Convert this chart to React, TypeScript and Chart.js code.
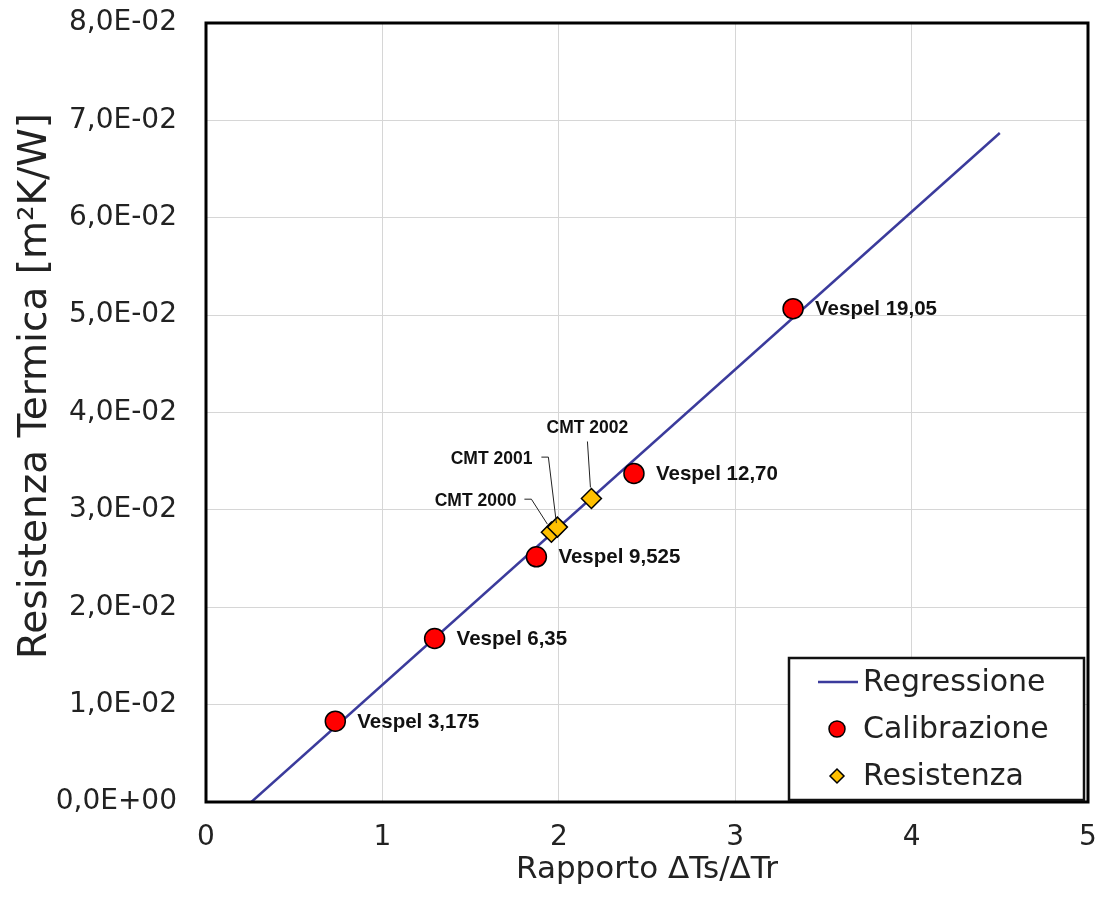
import React, { useEffect, useRef } from 'react';
import { Chart, registerables } from 'chart.js';

Chart.register(...registerables);

// ---- data ----
const calibLabels = ['Vespel 3,175', 'Vespel 6,35', 'Vespel 9,525', 'Vespel 12,70', 'Vespel 19,05'];
const calibX = [0.733, 1.296, 1.873, 2.426, 3.328];
const calibY = [0.0083, 0.01679, 0.02518, 0.03374, 0.05066];

const resLabels = ['CMT 2000', 'CMT 2001', 'CMT 2002'];
const resX = [1.958, 1.992, 2.185];
const resY = [0.02771, 0.02823, 0.03117];

const regX = [0.257, 4.5];
const regY = [0, 0.0687];

const xTickLabels = ['0', '1', '2', '3', '4', '5'];
const yTickLabels = ['0,0E+00', '1,0E-02', '2,0E-02', '3,0E-02', '4,0E-02', '5,0E-02', '6,0E-02', '7,0E-02', '8,0E-02'];

const seriesNames = ['Regressione', 'Calibrazione', 'Resistenza'];
const xTitle = 'Rapporto ΔTs/ΔTr';
const yTitle = 'Resistenza Termica [m²K/W]';

const FONT = '"DejaVu Sans", sans-serif';
const LABEL_FONT = '"Liberation Sans", Arial, sans-serif';

const REG_COLOR = '#3b3b9c';
const CAL_COLOR = '#ff0000';
const RES_COLOR = '#ffc000';

// label offsets for the CMT points (pixels relative to point), with leader lines
const resLabelLayout = [
  { tx: -35, ty: -31, align: 'right', leader: [[-27, -33], [-20, -33], [-4, -8]] },
  { tx: -25, ty: -68, align: 'right', leader: [[-16, -70], [-9, -70], [-1, -4]] },
  { tx: -4, ty: -70, align: 'center', leader: [[-4, -57], [-1, -11]] },
];

const overlayPlugin = {
  id: 'overlay',
  afterDatasetsDraw(chart: any) {
    const ctx = chart.ctx;
    const area = chart.chartArea;

    // data labels for calibration points
    const calMeta = chart.getDatasetMeta(1);
    ctx.save();
    ctx.fillStyle = '#111';
    ctx.font = `bold 20.5px ${LABEL_FONT}`;
    ctx.textAlign = 'left';
    ctx.textBaseline = 'middle';
    calMeta.data.forEach((pt: any, i: number) => {
      ctx.fillText(calibLabels[i], pt.x + 22, pt.y + 1);
    });

    // labels for resistance points with leader lines
    const resMeta = chart.getDatasetMeta(2);
    ctx.font = `bold 17.5px ${LABEL_FONT}`;
    resMeta.data.forEach((pt: any, i: number) => {
      const lay = resLabelLayout[i];
      ctx.strokeStyle = '#222';
      ctx.lineWidth = 1;
      ctx.beginPath();
      lay.leader.forEach((p, j) => {
        if (j === 0) ctx.moveTo(pt.x + p[0], pt.y + p[1]);
        else ctx.lineTo(pt.x + p[0], pt.y + p[1]);
      });
      ctx.stroke();
      ctx.textAlign = lay.align as CanvasTextAlign;
      ctx.fillText(resLabels[i], pt.x + lay.tx, pt.y + lay.ty);
    });
    ctx.restore();

    // plot frame
    ctx.save();
    ctx.strokeStyle = '#000';
    ctx.lineWidth = 3;
    ctx.strokeRect(area.left, area.top, area.right - area.left, area.bottom - area.top);
    ctx.restore();

    // legend box
    const lx = 789, ly = 658, lw = 295, lh = 142;
    ctx.save();
    ctx.fillStyle = '#fff';
    ctx.fillRect(lx, ly, lw, lh);
    ctx.strokeStyle = '#111';
    ctx.lineWidth = 2.5;
    ctx.strokeRect(lx, ly, lw, lh);
    const rows = [682, 729, 776];
    ctx.font = `30px ${FONT}`;
    ctx.fillStyle = '#222';
    ctx.textAlign = 'left';
    ctx.textBaseline = 'middle';
    // regression
    ctx.strokeStyle = REG_COLOR;
    ctx.lineWidth = 2.5;
    ctx.beginPath();
    ctx.moveTo(818, rows[0]);
    ctx.lineTo(858, rows[0]);
    ctx.stroke();
    // calibration marker
    ctx.beginPath();
    ctx.arc(837, rows[1], 8, 0, Math.PI * 2);
    ctx.fillStyle = CAL_COLOR;
    ctx.fill();
    ctx.strokeStyle = '#000';
    ctx.lineWidth = 1.5;
    ctx.stroke();
    // resistance marker
    ctx.beginPath();
    ctx.moveTo(837 - 7, rows[2]);
    ctx.lineTo(837, rows[2] - 7);
    ctx.lineTo(837 + 7, rows[2]);
    ctx.lineTo(837, rows[2] + 7);
    ctx.closePath();
    ctx.fillStyle = RES_COLOR;
    ctx.fill();
    ctx.stroke();
    ctx.fillStyle = '#222';
    seriesNames.forEach((n, i) => ctx.fillText(n, 863, rows[i] + 1));
    ctx.restore();

    // y axis title
    ctx.save();
    ctx.translate(46, 386);
    ctx.rotate(-Math.PI / 2);
    ctx.font = `39px ${FONT}`;
    ctx.fillStyle = '#222';
    ctx.textAlign = 'center';
    ctx.textBaseline = 'alphabetic';
    ctx.fillText(yTitle, 0, 0);
    ctx.restore();
  },
};

export default function App() {
  const ref = useRef<HTMLCanvasElement>(null);

  useEffect(() => {
    document.body.style.margin = '0';
    const canvas = ref.current;
    if (!canvas) return;
    const chart = new Chart(canvas, {
      type: 'scatter',
      data: {
        datasets: [
          {
            type: 'line',
            label: seriesNames[0],
            data: regX.map((x, i) => ({ x, y: regY[i] })),
            borderColor: REG_COLOR,
            borderWidth: 2.5,
            pointRadius: 0,
            showLine: true,
            fill: false,
            order: 3,
          } as any,
          {
            label: seriesNames[1],
            data: calibX.map((x, i) => ({ x, y: calibY[i] })),
            backgroundColor: CAL_COLOR,
            borderColor: '#000',
            borderWidth: 1.5,
            pointRadius: 10,
            pointStyle: 'circle',
            order: 2,
          },
          {
            label: seriesNames[2],
            data: resX.map((x, i) => ({ x, y: resY[i] })),
            backgroundColor: RES_COLOR,
            borderColor: '#000',
            borderWidth: 1.5,
            pointRadius: 10,
            pointStyle: 'rectRot',
            order: 1,
          },
        ],
      },
      options: {
        animation: false,
        responsive: true,
        maintainAspectRatio: false,
        layout: { padding: { top: 23, right: 14, left: 0, bottom: 0 } },
        plugins: {
          legend: { display: false },
          tooltip: { enabled: false },
        },
        scales: {
          x: {
            type: 'linear',
            min: 0,
            max: 5,
            afterFit(scale: any) {
              scale.height = 107;
              scale.paddingLeft = 0;
              scale.paddingRight = 0;
            },
            ticks: {
              stepSize: 1,
              color: '#222',
              font: { family: FONT, size: 28 },
              padding: 19,
              callback: (v: any) => xTickLabels[Math.round(Number(v))] ?? '',
            },
            grid: { color: '#d6d6d6', lineWidth: 1, drawTicks: false },
            border: { display: false },
            title: {
              display: true,
              text: xTitle,
              color: '#222',
              font: { family: FONT, size: 31 },
              padding: { top: 0, bottom: 20 },
            },
          },
          y: {
            type: 'linear',
            min: 0,
            max: 0.08,
            afterFit(scale: any) {
              scale.width = 206;
              scale.paddingTop = 0;
              scale.paddingBottom = 0;
            },
            ticks: {
              stepSize: 0.01,
              color: '#222',
              font: { family: FONT, size: 28 },
              padding: 29,
              callback: (v: any) => yTickLabels[Math.round(Number(v) / 0.01)] ?? '',
            },
            grid: { color: '#d6d6d6', lineWidth: 1, drawTicks: false },
            border: { display: false },
          },
        },
      },
      plugins: [overlayPlugin],
    });
    return () => chart.destroy();
  }, []);

  return (
    <div style={{ width: '1102px', height: '909px', position: 'relative' }}>
      <canvas ref={ref} />
    </div>
  );
}
